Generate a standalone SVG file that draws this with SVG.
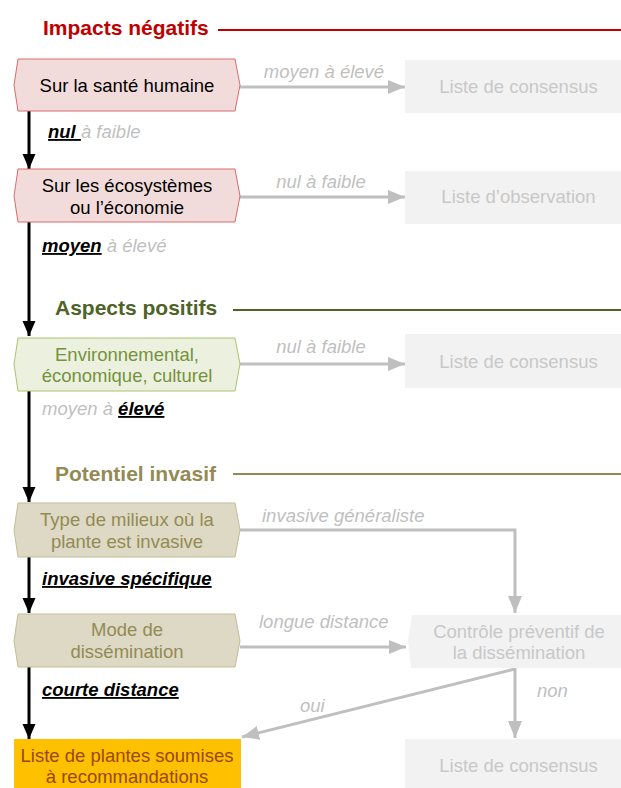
<svg xmlns="http://www.w3.org/2000/svg" width="621" height="788" viewBox="0 0 621 788">
<style>
text{font-family:"Liberation Sans",Arial,sans-serif;font-size:18.5px}
.c{text-anchor:middle}
.hd{font-weight:bold;font-size:21px}
.lbl{font-style:italic;fill:#BFBFBF}
.sel{font-weight:bold;font-style:italic;fill:#000;text-decoration:underline}
.gbox{fill:#F2F2F2}
.gtx{fill:#C8C8C8}
.red{fill:#F2DCDB;stroke:#DA6A6A;stroke-width:1}
.grn{fill:#EBF1DE;stroke:#A9C46C;stroke-width:1}
.tan{fill:#DDD9C4;stroke:#C4BD97;stroke-width:1}
.blk{stroke:#000;stroke-width:3;fill:none}
.gry{stroke:#BFBFBF;stroke-width:3;fill:none}
</style>
<defs>
<marker id="ab" markerUnits="userSpaceOnUse" markerWidth="15" markerHeight="14" viewBox="0 0 15 14" refX="15" refY="7" orient="auto"><path d="M0,0.5 L15,7 L0,13.5 Z" fill="#000"/></marker>
<marker id="ag" markerUnits="userSpaceOnUse" markerWidth="17" markerHeight="15" viewBox="0 0 17 15" refX="17" refY="7.5" orient="auto"><path d="M0,0.5 L17,7.5 L0,14.5 Z" fill="#BFBFBF"/></marker>
</defs>

<g id="headers">
<text class="hd" x="43" y="35" fill="#C00000">Impacts négatifs</text>
<line x1="218" y1="30" x2="621" y2="30" stroke="#C00000" stroke-width="2"/>
<text class="hd" x="55" y="315" fill="#4F6228">Aspects positifs</text>
<line x1="233" y1="310" x2="621" y2="310" stroke="#4F6228" stroke-width="2"/>
<text class="hd" x="55" y="481" fill="#948A54">Potentiel invasif</text>
<line x1="233" y1="474" x2="621" y2="474" stroke="#948A54" stroke-width="2"/>
</g>

<g id="connectors">
<line class="blk" x1="29" y1="111" x2="29" y2="169" marker-end="url(#ab)"/>
<line class="blk" x1="29" y1="222" x2="29" y2="336" marker-end="url(#ab)"/>
<line class="blk" x1="29" y1="391" x2="29" y2="502" marker-end="url(#ab)"/>
<line class="blk" x1="29" y1="557" x2="29" y2="613" marker-end="url(#ab)"/>
<line class="blk" x1="29" y1="667" x2="29" y2="739" marker-end="url(#ab)"/>
<line class="gry" x1="240" y1="87" x2="405" y2="87" marker-end="url(#ag)"/>
<line class="gry" x1="240" y1="197" x2="405" y2="197" marker-end="url(#ag)"/>
<line class="gry" x1="240" y1="364" x2="405" y2="364" marker-end="url(#ag)"/>
<polyline class="gry" points="240,530 515,530 515,613" marker-end="url(#ag)"/>
<line class="gry" x1="240" y1="647" x2="406" y2="647" marker-end="url(#ag)"/>
<line class="gry" x1="515" y1="668" x2="515" y2="738" marker-end="url(#ag)"/>
<line class="gry" x1="515" y1="669" x2="242" y2="737" marker-end="url(#ag)"/>
<text class="lbl" x="48" y="138"><tspan class="sel">nul </tspan>à faible</text>
<text class="lbl" x="42" y="252"><tspan class="sel">moyen</tspan> à élevé</text>
<text class="lbl" x="42" y="415">moyen à <tspan class="sel">élevé</tspan></text>
<text class="sel" x="42" y="585">invasive spécifique</text>
<text class="sel" x="42" y="696">courte distance</text>
<text class="lbl c" x="324" y="78">moyen à élevé</text>
<text class="lbl c" x="321" y="188">nul à faible</text>
<text class="lbl c" x="321" y="353">nul à faible</text>
<text class="lbl" x="262" y="522">invasive généraliste</text>
<text class="lbl" x="259" y="628">longue distance</text>
<text class="lbl" x="537" y="697">non</text>
<text class="lbl" x="300" y="712">oui</text>
</g>

<g id="n-sante">
<polygon class="red" points="18,59 235,59 240,85 235,111 18,111 14,85"/>
<text class="c" x="127" y="92">Sur la santé humaine</text>
</g>
<g id="n-ecosys">
<polygon class="red" points="18,169 235,169 240,196 235,222 18,222 14,196"/>
<text class="c" x="127" y="192">Sur les écosystèmes</text>
<text class="c" x="127" y="213.5">ou l’économie</text>
</g>
<g id="n-positifs">
<polygon class="grn" points="18,338 235,338 240,364 235,391 18,391 14,364"/>
<text class="c" x="127" y="361" fill="#76923C">Environnemental,</text>
<text class="c" x="127" y="382" fill="#76923C">économique, culturel</text>
</g>
<g id="n-milieux">
<polygon class="tan" points="18,503 235,503 240,530 235,557 18,557 14,530"/>
<text class="c" x="127" y="526" fill="#948A54">Type de milieux où la</text>
<text class="c" x="127" y="548" fill="#948A54">plante est invasive</text>
</g>
<g id="n-mode">
<polygon class="tan" points="18,614 235,614 240,641 235,667 18,667 14,641"/>
<text class="c" x="127" y="636" fill="#948A54">Mode de</text>
<text class="c" x="127" y="658" fill="#948A54">dissémination</text>
</g>
<g id="n-recom">
<rect x="14" y="739" width="227" height="52" fill="#FFC000"/>
<text class="c" x="127" y="762" fill="#984806">Liste de plantes soumises</text>
<text class="c" x="127" y="783" fill="#984806">à recommandations</text>
</g>
<g id="b-consensus1">
<rect class="gbox" x="405" y="60" width="227" height="53"/>
<text class="c gtx" x="518.5" y="93">Liste de consensus</text>
</g>
<g id="b-observation">
<rect class="gbox" x="405" y="171" width="227" height="53"/>
<text class="c gtx" x="518.5" y="203">Liste d’observation</text>
</g>
<g id="b-consensus2">
<rect class="gbox" x="405" y="334" width="227" height="54"/>
<text class="c gtx" x="518.5" y="368">Liste de consensus</text>
</g>
<g id="b-controle">
<polygon class="gbox" points="412,615 632,615 632,668 411,668 408,641"/>
<text class="c gtx" x="519" y="638">Contrôle préventif de</text>
<text class="c gtx" x="519" y="659">la dissémination</text>
</g>
<g id="b-consensus3">
<rect class="gbox" x="405" y="739" width="227" height="52"/>
<text class="c gtx" x="518.5" y="772">Liste de consensus</text>
</g>
</svg>
